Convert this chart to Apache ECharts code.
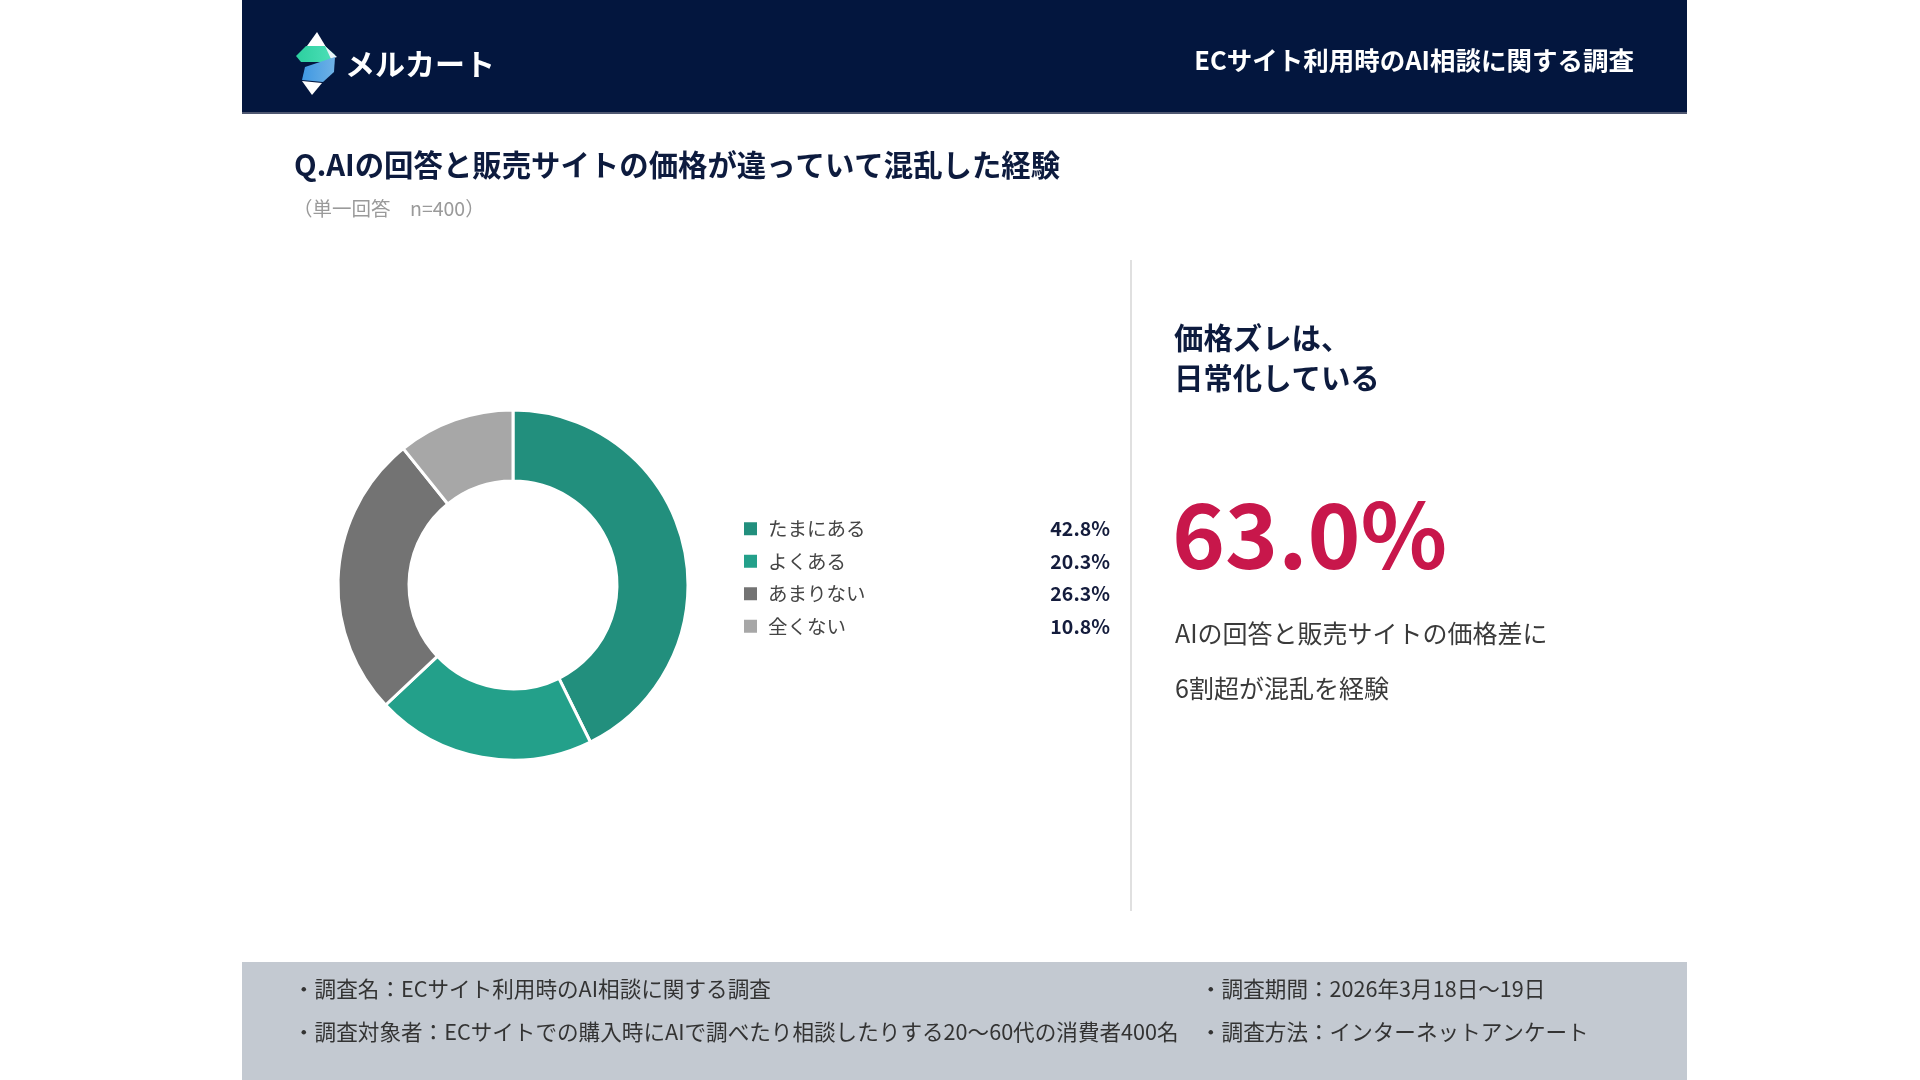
<!DOCTYPE html>
<html>
<head>
<meta charset="utf-8">
<script src="https://cdn.jsdelivr.net/npm/echarts@6/dist/echarts.min.js"></script>
<style>
  html, body { margin: 0; padding: 0; background: #ffffff; }
  #chart { width: 1920px; height: 1080px; }
</style>
</head>
<body>
<div id="chart"></div>
<script>
// 回答データ
const categories = ['たまにある', 'よくある', 'あまりない', '全くない']
const shares = [42.8, 20.3, 26.3, 10.8]
const headline = '63.0%'

const brandName = 'メルカート'
const surveyName = 'ECサイト利用時のAI相談に関する調査'
const questionText = 'Q.AIの回答と販売サイトの価格が違っていて混乱した経験'
const questionNote = '（単一回答　n=400）'
const keyLines = ['価格ズレは、', '日常化している']
const noteLines = ['AIの回答と販売サイトの価格差に', '6割超が混乱を経験']
const footerLeft = [
    '・調査名：ECサイト利用時のAI相談に関する調査',
    '・調査対象者：ECサイトでの購入時にAIで調べたり相談したりする20〜60代の消費者400名'
]
const footerRight = [
    '・調査期間：2026年3月18日〜19日',
    '・調査方法：インターネットアンケート'
]

const sliceColors = ['#228f7d', '#23a08a', '#737373', '#a7a7a7']
const FONT = '"Noto Sans CJK JP", "Noto Sans", sans-serif'
const NAVY = '#0d1b3e'

function textEl(x, y, text, size, color, weight, align) {
    return {
        type: 'text',
        x: x,
        y: y,
        style: {
            text: text,
            font: (weight || 'normal') + ' ' + size + 'px ' + FONT,
            fill: color,
            textAlign: align || 'left',
            textVerticalAlign: 'middle'
        }
    }
}

let chart = echarts.init(document.getElementById('chart'))

let graphics = [
    // ヘッダー
    { type: 'rect', shape: { x: 242, y: 0, width: 1445, height: 113 }, style: { fill: '#03163e' } },
    { type: 'rect', shape: { x: 242, y: 112, width: 1445, height: 2 }, style: { fill: '#4f5871' } },
    // ロゴ
    { type: 'polygon', shape: { points: [[317, 32], [329, 52], [307, 46]] }, style: { fill: '#ffffff' } },
    { type: 'polygon', shape: { points: [[296, 56], [306, 46], [325, 46], [335, 55], [327, 62], [301, 62]] },
      style: { fill: new echarts.graphic.LinearGradient(0, 0, 1, 0, [{ offset: 0, color: '#2ccf9f' }, { offset: 1, color: '#4fe0b8' }]) } },
    { type: 'polygon', shape: { points: [[325, 46], [337, 57], [331, 59]] }, style: { fill: '#e8f3f7' } },
    { type: 'polygon', shape: { points: [[305, 67], [335, 57], [334, 72], [323, 82], [302, 80]] },
      style: { fill: new echarts.graphic.LinearGradient(0, 0, 1, 0, [{ offset: 0, color: '#3f98e2' }, { offset: 1, color: '#6fb2e6' }]) } },
    { type: 'polygon', shape: { points: [[302, 81], [322, 83], [312, 95]] }, style: { fill: '#ffffff' } },
    textEl(345, 64, brandName, 30, '#ffffff', 'bold'),
    textEl(1634, 60, surveyName, 25.5, '#ffffff', 'bold', 'right'),
    // 設問
    textEl(294, 165, questionText, 29.4, NAVY, 'bold'),
    textEl(293, 209, questionNote, 19.5, '#9a9a9a'),
    // 区切り線
    { type: 'line', shape: { x1: 1131, y1: 260, x2: 1131, y2: 911 }, style: { stroke: '#e0e0e0', lineWidth: 2 } },
    // 右側のまとめ
    textEl(1174, 338, keyLines[0], 29.4, NAVY, 'bold'),
    textEl(1174, 378, keyLines[1], 29.4, NAVY, 'bold'),
    textEl(1172, 535, headline, 90, '#c8174b', 'bold'),
    textEl(1175, 633, noteLines[0], 25, '#3a3a3a'),
    textEl(1175, 688, noteLines[1], 25, '#3a3a3a'),
    // フッター
    { type: 'rect', shape: { x: 242, y: 962, width: 1445, height: 118 }, style: { fill: '#c3c9d1' } }
]

footerLeft.forEach((t, i) => graphics.push(textEl(293, 989 + i * 43, t, 21.6, '#333333')))
footerRight.forEach((t, i) => graphics.push(textEl(1200, 989 + i * 43, t, 21.6, '#333333')))

let pieData = categories.map((name, i) => ({
    name: name,
    value: shares[i],
    itemStyle: { color: sliceColors[i] }
}))

let option = {
    animation: false,
    backgroundColor: '#ffffff',
    legend: {
        orient: 'vertical',
        left: 742,
        top: 519,
        padding: 0,
        icon: 'rect',
        itemWidth: 15,
        itemHeight: 15,
        itemGap: 13,
        selectedMode: false,
        data: categories,
        formatter: name => {
            let v = shares[categories.indexOf(name)]
            return '{n|' + name + '}{v|' + v.toFixed(1) + '%}'
        },
        textStyle: {
            rich: {
                n: { width: 262, padding: [0, 0, 0, 5], height: 20, fontSize: 19.5, color: '#444444', fontFamily: FONT },
                v: { width: 80, align: 'right', height: 20, fontSize: 19.5, fontWeight: 'bold', color: '#141c3c', fontFamily: FONT }
            }
        }
    },
    series: [{
        type: 'pie',
        center: [513, 585],
        radius: [104, 175],
        startAngle: 90,
        clockwise: true,
        label: { show: false },
        labelLine: { show: false },
        emphasis: { disabled: true },
        itemStyle: { borderColor: '#ffffff', borderWidth: 3 },
        data: pieData
    }],
    graphic: graphics
}

chart.setOption(option)
</script>
</body>
</html>
